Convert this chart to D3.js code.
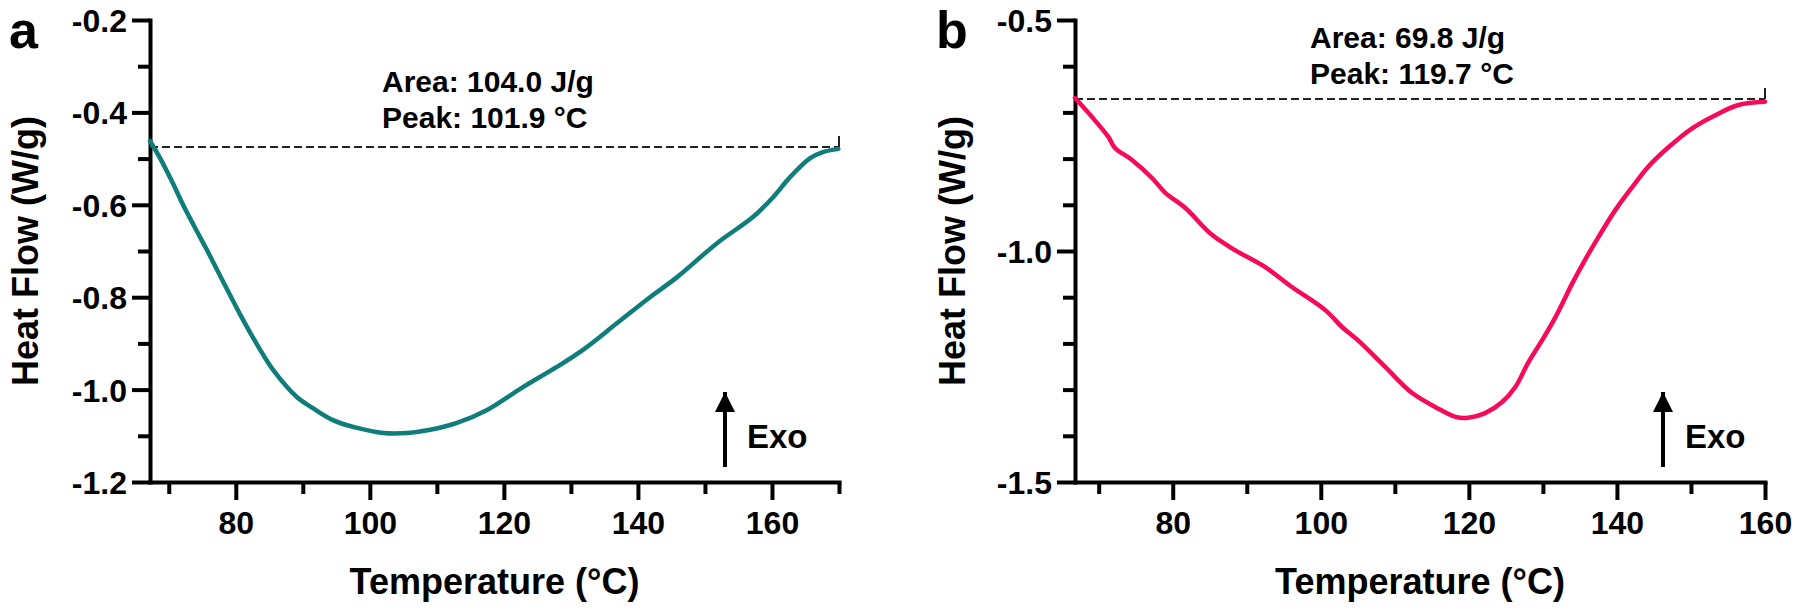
<!DOCTYPE html>
<html>
<head>
<meta charset="utf-8">
<script src="https://cdn.jsdelivr.net/npm/d3@7"></script>
<style>
  html, body { margin: 0; padding: 0; background: #fff; }
  svg text { font-family: "Liberation Sans", Arial, Helvetica, sans-serif; font-weight: bold; fill: #000; }
</style>
</head>
<body>
<svg id="chart" width="1800" height="610"></svg>
<script>
// ---------- Panel a data ----------
const aTemp = [67.2, 68.7, 70.6, 72.0, 73.6, 75.7, 78.1, 80.6, 83.2, 85.6, 89.1, 91.5, 94.5, 98.1, 102.0, 105.6, 109.0, 113.0, 117.5, 122.9, 127.9, 131.8, 136.9, 141.8, 145.9, 151.8, 157.2, 160.2, 162.7, 165.7, 167.6, 169.9];
const aFlow = [-0.462, -0.499, -0.553, -0.596, -0.641, -0.698, -0.766, -0.836, -0.903, -0.958, -1.016, -1.040, -1.066, -1.083, -1.094, -1.094, -1.087, -1.072, -1.044, -0.994, -0.951, -0.914, -0.856, -0.800, -0.756, -0.683, -0.626, -0.583, -0.540, -0.499, -0.486, -0.479];
const aBaseline = -0.475;
const aXDomain = [67.2, 170];
const aYDomain = [-1.2, -0.2];
const aXTicks = [80, 100, 120, 140, 160];
const aXTickLabels = ["80", "100", "120", "140", "160"];
const aXMinor = [70, 90, 110, 130, 150, 170];
const aYTicks = [-0.2, -0.4, -0.6, -0.8, -1.0, -1.2];
const aYTickLabels = ["-0.2", "-0.4", "-0.6", "-0.8", "-1.0", "-1.2"];
const aYMinor = [-0.3, -0.5, -0.7, -0.9, -1.1];
const aNotes = ["Area: 104.0 J/g", "Peak: 101.9 °C"];

// ---------- Panel b data ----------
const bTemp = [66.8, 69.1, 71.3, 72.2, 74.5, 77.2, 79.0, 81.7, 85.3, 88.4, 92.5, 96.1, 100.6, 102.9, 105.0, 108.7, 112.3, 115.5, 118.2, 119.9, 122.2, 124.5, 126.3, 128.0, 129.9, 131.7, 134.0, 135.7, 137.5, 139.8, 142.1, 144.2, 147.0, 150.2, 153.3, 156.4, 160.0];
const bFlow = [-0.669, -0.710, -0.753, -0.777, -0.803, -0.842, -0.874, -0.907, -0.965, -0.998, -1.035, -1.078, -1.128, -1.165, -1.193, -1.251, -1.307, -1.338, -1.359, -1.361, -1.351, -1.327, -1.294, -1.242, -1.193, -1.143, -1.069, -1.019, -0.970, -0.911, -0.861, -0.818, -0.775, -0.734, -0.706, -0.684, -0.677];
const bBaseline = -0.671;
const bXDomain = [66.8, 160];
const bYDomain = [-1.5, -0.5];
const bXTicks = [80, 100, 120, 140, 160];
const bXTickLabels = ["80", "100", "120", "140", "160"];
const bXMinor = [70, 90, 110, 130, 150];
const bYTicks = [-0.5, -1.0, -1.5];
const bYTickLabels = ["-0.5", "-1.0", "-1.5"];
const bYMinor = [-0.6, -0.7, -0.8, -0.9, -1.1, -1.2, -1.3, -1.4];
const bNotes = ["Area: 69.8 J/g", "Peak: 119.7 °C"];

const xTitle = "Temperature (°C)";
const yTitle = "Heat Flow (W/g)";
const exoLabel = "Exo";

const svg = d3.select("#chart");

svg.append("defs").append("marker")
  .attr("id", "arrowhead")
  .attr("viewBox", "0 0 10 10")
  .attr("refX", 10).attr("refY", 5)
  .attr("markerWidth", 5).attr("markerHeight", 5)
  .attr("markerUnits", "strokeWidth")
  .attr("orient", "auto")
  .append("path").attr("d", "M0,0 L10,5 L0,10 Z").attr("fill", "#000");

function panel(cfg) {
  const x = d3.scaleLinear().domain(cfg.xDomain).range([cfg.left, cfg.right]);
  const y = d3.scaleLinear().domain(cfg.yDomain).range([cfg.bottom, cfg.top]);
  const g = svg.append("g");

  // minor ticks
  const xMinorAxis = d3.axisBottom(x).tickValues(cfg.xMinor).tickSize(12).tickSizeOuter(0).tickFormat("");
  const yMinorAxis = d3.axisLeft(y).tickValues(cfg.yMinor).tickSize(12).tickSizeOuter(0).tickFormat("");
  g.append("g").attr("transform", `translate(0,${cfg.bottom})`).call(xMinorAxis).call(s => s.select(".domain").remove());
  g.append("g").attr("transform", `translate(${cfg.left},0)`).call(yMinorAxis).call(s => s.select(".domain").remove());

  // major axes
  const xAxis = d3.axisBottom(x).tickValues(cfg.xTicks).tickSize(18).tickSizeOuter(0).tickPadding(10)
    .tickFormat((d, i) => cfg.xTickLabels[i]);
  const yAxis = d3.axisLeft(y).tickValues(cfg.yTicks).tickSize(18).tickSizeOuter(0).tickPadding(5)
    .tickFormat((d, i) => cfg.yTickLabels[i]);
  const gx = g.append("g").attr("transform", `translate(0,${cfg.bottom})`).call(xAxis);
  const gy = g.append("g").attr("transform", `translate(${cfg.left},0)`).call(yAxis);

  [gx, gy].forEach(a => {
    a.selectAll("text").style("font-size", "32px").attr("fill", "#000");
  });
  gy.selectAll("text").attr("dy", "0.36em");
  gx.selectAll("text").attr("dy", "0.76em");

  g.selectAll(".tick line").attr("stroke", "#000").attr("stroke-width", 4);
  g.selectAll(".domain").attr("stroke", "#000").attr("stroke-width", 4).attr("stroke-linecap", "square");

  // dashed baseline
  const yb = y(cfg.baseline);
  g.append("line")
    .attr("x1", x(cfg.xDomain[0])).attr("x2", x(cfg.baseEnd))
    .attr("y1", yb).attr("y2", yb)
    .attr("stroke", "#222").attr("stroke-width", 2).attr("stroke-dasharray", "8,4");
  g.append("line")
    .attr("x1", x(cfg.baseEnd)).attr("x2", x(cfg.baseEnd))
    .attr("y1", yb - 11).attr("y2", yb)
    .attr("stroke", "#222").attr("stroke-width", 2);

  // curve
  const pts = cfg.temp.map((t, i) => [t, cfg.flow[i]]);
  g.append("path")
    .datum(pts)
    .attr("fill", "none")
    .attr("stroke", cfg.color)
    .attr("stroke-width", 4.5)
    .attr("stroke-linejoin", "round")
    .attr("stroke-linecap", "round")
    .attr("d", d3.line().x(d => x(d[0])).y(d => y(d[1])).curve(d3.curveCatmullRom.alpha(0.5)));

  // annotation
  cfg.notes.forEach((t, i) => {
    g.append("text").attr("x", cfg.noteX).attr("y", cfg.noteY + i * 36)
      .style("font-size", "30px").text(t);
  });

  // Exo arrow
  g.append("line")
    .attr("x1", cfg.arrowX).attr("x2", cfg.arrowX)
    .attr("y1", 467).attr("y2", 392)
    .attr("stroke", "#000").attr("stroke-width", 4)
    .attr("marker-end", "url(#arrowhead)");
  g.append("text").attr("x", cfg.arrowX + 22).attr("y", 448)
    .style("font-size", "33px").text(exoLabel);

  // axis titles
  g.append("text")
    .attr("x", (cfg.left + cfg.right) / 2).attr("y", 594)
    .attr("text-anchor", "middle")
    .style("font-size", "36px").text(xTitle);
  g.append("text")
    .attr("transform", `translate(${cfg.yTitleX},${(cfg.top + cfg.bottom) / 2}) rotate(-90)`)
    .attr("text-anchor", "middle")
    .style("font-size", "36px").text(yTitle);

  // panel letter
  g.append("text").attr("x", cfg.letterX).attr("y", 48)
    .style("font-size", "52px").text(cfg.letter);
}

panel({
  letter: "a", letterX: 9,
  left: 150, right: 839, top: 20, bottom: 482,
  xDomain: aXDomain, yDomain: aYDomain,
  xTicks: aXTicks, xTickLabels: aXTickLabels, xMinor: aXMinor,
  yTicks: aYTicks, yTickLabels: aYTickLabels, yMinor: aYMinor,
  temp: aTemp, flow: aFlow, color: "#0f7d7a",
  baseline: aBaseline, baseEnd: 170,
  notes: aNotes, noteX: 382, noteY: 92,
  arrowX: 725, yTitleX: 38
});

panel({
  letter: "b", letterX: 936,
  left: 1075, right: 1765, top: 20, bottom: 482,
  xDomain: bXDomain, yDomain: bYDomain,
  xTicks: bXTicks, xTickLabels: bXTickLabels, xMinor: bXMinor,
  yTicks: bYTicks, yTickLabels: bYTickLabels, yMinor: bYMinor,
  temp: bTemp, flow: bFlow, color: "#f70a5a",
  baseline: bBaseline, baseEnd: 160,
  notes: bNotes, noteX: 1310, noteY: 48,
  arrowX: 1663, yTitleX: 965
});
</script>
</body>
</html>
